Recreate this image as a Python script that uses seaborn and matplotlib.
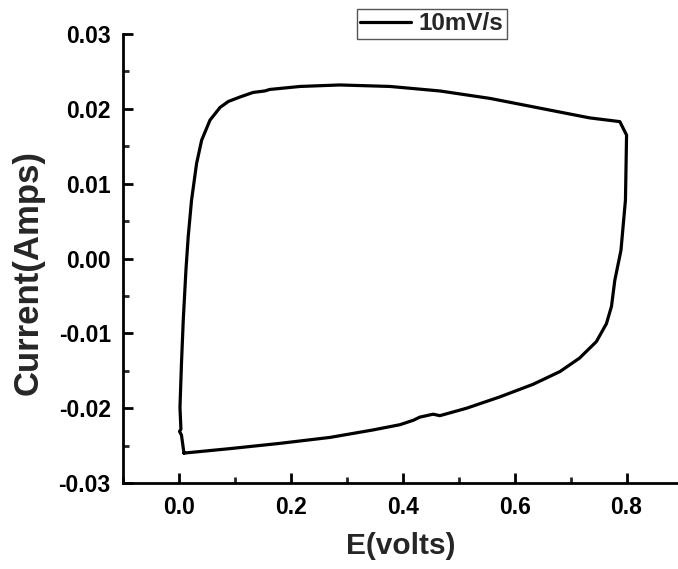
import matplotlib
matplotlib.use("Agg")
import matplotlib.pyplot as plt
import seaborn as sns
import pandas as pd
from matplotlib.ticker import MultipleLocator, FormatStrFormatter

# Cyclic voltammogram at 10 mV/s (closed loop)
potential = [0.0084, 0.004, 0.0005, 0.003, 0.0013, 0.004, 0.0072, 0.012, 0.016,
             0.022, 0.031, 0.040, 0.055, 0.073, 0.088, 0.109, 0.132, 0.153,
             0.162, 0.216, 0.287, 0.377, 0.466, 0.556, 0.645, 0.734, 0.788,
             0.800, 0.799, 0.798, 0.790, 0.779, 0.773, 0.764, 0.746, 0.716,
             0.681, 0.633, 0.573, 0.514, 0.466, 0.454, 0.430, 0.419, 0.395,
             0.347, 0.270, 0.180, 0.091, 0.0084]
current = [-0.0260, -0.0236, -0.0231, -0.0228, -0.0199, -0.0140, -0.0082, -0.0015, 0.0029,
           0.0078, 0.0127, 0.0158, 0.0185, 0.0202, 0.0210, 0.0216, 0.0222, 0.0224,
           0.0226, 0.0230, 0.0232, 0.0230, 0.0224, 0.0214, 0.0201, 0.0188, 0.0183,
           0.0165, 0.0120, 0.0078, 0.0011, -0.0029, -0.0064, -0.0087, -0.0111, -0.0133,
           -0.0151, -0.0168, -0.0185, -0.0200, -0.0210, -0.0208, -0.0212, -0.0216, -0.0222,
           -0.0229, -0.0239, -0.0247, -0.0254, -0.0260]
series_label = "10mV/s"
x_label = "E(volts)"
y_label = "Current(Amps)"

df = pd.DataFrame({"E": potential, "I": current, "scan": series_label})

sns.set_style("ticks")
plt.rcParams["font.family"] = ["Liberation Sans", "DejaVu Sans"]
plt.rcParams["font.weight"] = "bold"

fig = plt.figure(figsize=(6.78, 5.69), dpi=100)
ax = fig.add_axes([0.1819, 0.1511, 0.8181, 0.789])

sns.lineplot(data=df, x="E", y="I", hue="scan", palette=["black"], sort=False,
             estimator=None, linewidth=2.3, ax=ax, legend=True)

ax.set_xlim(-0.1, 0.892)
ax.set_ylim(-0.03, 0.03)
ax.xaxis.set_major_locator(MultipleLocator(0.2))
ax.xaxis.set_minor_locator(MultipleLocator(0.1))
ax.yaxis.set_major_locator(MultipleLocator(0.01))
ax.yaxis.set_minor_locator(MultipleLocator(0.005))
ax.xaxis.set_major_formatter(FormatStrFormatter("%.1f"))
ax.yaxis.set_major_formatter(FormatStrFormatter("%.2f"))

for s in ["top", "right"]:
    ax.spines[s].set_visible(False)
for s in ["left", "bottom"]:
    ax.spines[s].set_linewidth(2.0)
    ax.spines[s].set_color("black")

ax.tick_params(which="major", direction="in", length=7, width=2.0, labelsize=16.5, pad=9, colors="black")
ax.tick_params(which="minor", direction="in", length=4.5, width=2.0)
for lab in ax.get_xticklabels() + ax.get_yticklabels():
    lab.set_fontweight("bold")

ax.set_xlabel(x_label, fontsize=21.5, fontweight="bold", labelpad=10)
ax.set_ylabel(y_label, fontsize=25, fontweight="bold", labelpad=8)
ax.yaxis.set_label_coords(-0.142, 0.47)

handles, labels = ax.get_legend_handles_labels()
ax.legend(handles, labels, loc="upper center", bbox_to_anchor=(0.637, 0.985),
          bbox_transform=fig.transFigure, frameon=True, fancybox=False,
          edgecolor="#555555", framealpha=1, prop={"size": 17.5, "weight": "bold"},
          handlelength=2.1, handletextpad=0.3, borderpad=0.15, borderaxespad=0)
ax.get_legend().get_frame().set_linewidth(1.0)

fig.savefig("out.png", dpi=100)
